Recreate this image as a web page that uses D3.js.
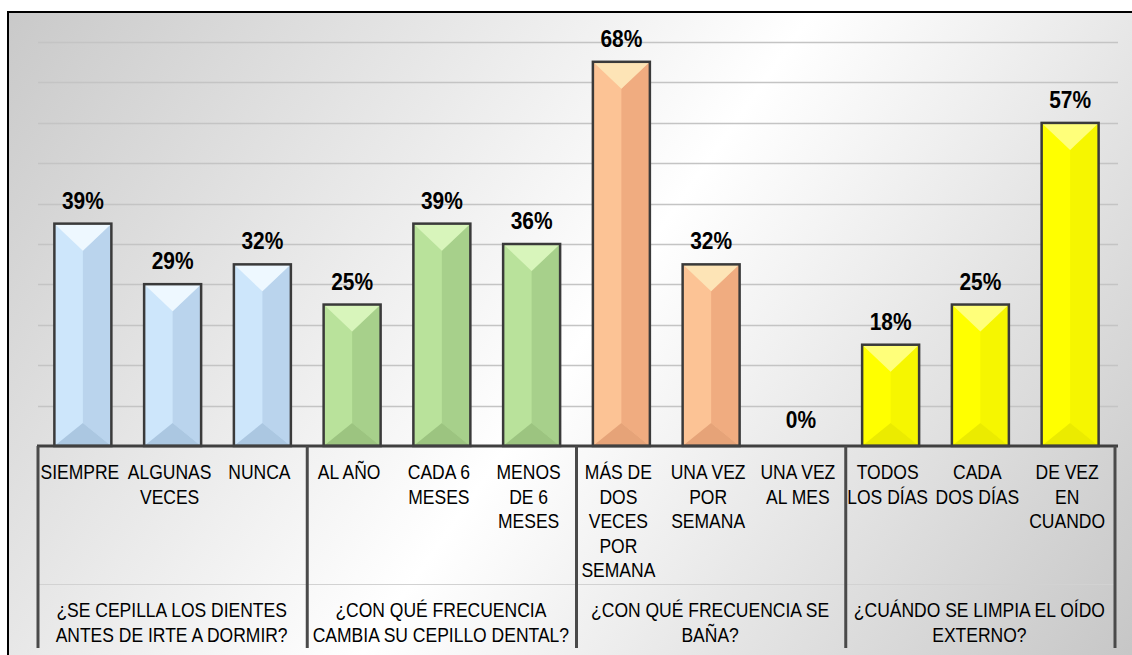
<!DOCTYPE html>
<html>
<head>
<meta charset="utf-8">
<script src="https://cdn.jsdelivr.net/npm/d3@7"></script>
<style>
  body { margin: 0; background: #fff; }
  svg { display: block; }
</style>
</head>
<body>
<div id="chart"></div>
<script>
// data
var groups = ["¿SE CEPILLA LOS DIENTES\nANTES DE IRTE A DORMIR?",
              "¿CON QUÉ FRECUENCIA\nCAMBIA SU CEPILLO DENTAL?",
              "¿CON QUÉ FRECUENCIA SE\nBAÑA?",
              "¿CUÁNDO SE LIMPIA EL OÍDO\nEXTERNO?"];
var categories = ["SIEMPRE", "ALGUNAS\nVECES", "NUNCA",
                  "AL AÑO", "CADA 6\nMESES", "MENOS\nDE 6\nMESES",
                  "MÁS DE\nDOS\nVECES\nPOR\nSEMANA", "UNA VEZ\nPOR\nSEMANA", "UNA VEZ\nAL MES",
                  "TODOS\nLOS DÍAS", "CADA\nDOS DÍAS", "DE VEZ\nEN\nCUANDO"];
var groupOf = [0,0,0, 1,1,1, 2,2,2, 3,3,3];
var values  = [0.393, 0.286, 0.321, 0.250, 0.393, 0.357, 0.679, 0.321, 0.000, 0.179, 0.250, 0.571];
var yMax = 0.714;

var width = 1132, height = 655;
var plot = {left: 38, right: 1115, top: 42, bottom: 446};

// bevel colours per group: top, left, right, bottom
var palette = [
    {top:"#eef8ff", left:"#cde6fb", right:"#bad4ed", bottom:"#abc7e1"},
    {top:"#d8f5bb", left:"#b9e29b", right:"#a7d08b", bottom:"#9cc480"},
    {top:"#fde4b6", left:"#fcc395", right:"#f0ac80", bottom:"#e6a378"},
    {top:"#ffff7a", left:"#ffff00", right:"#f6f600", bottom:"#ebeb00"}
];

var svg = d3.select("#chart").append("svg").attr("width", width).attr("height", height);

var defs = svg.append("defs");
var grad = defs.append("linearGradient").attr("id", "bg").attr("gradientUnits", "userSpaceOnUse")
    .attr("x1", 60).attr("y1", -64).attr("x2", 1140).attr("y2", 694);
grad.append("stop").attr("offset", "0").attr("stop-color", "#c9c9c9");
grad.append("stop").attr("offset", "0.5").attr("stop-color", "#ffffff");
grad.append("stop").attr("offset", "1").attr("stop-color", "#c4c4c4");

svg.append("rect").attr("x", 8).attr("y", 12).attr("width", 1140).attr("height", 660)
    .attr("fill", "url(#bg)").attr("stroke", "#000").attr("stroke-width", 2);

var x = d3.scaleBand().domain(d3.range(categories.length)).range([plot.left, plot.right])
    .paddingInner(0.365).paddingOuter(0.1825);
var y = d3.scaleLinear().domain([0, yMax]).range([plot.bottom, plot.top]);

// gridlines
var gridVals = d3.range(1, 11).map(function(i){ return yMax * i / 10; });
svg.append("g").selectAll("line").data(gridVals).enter().append("line")
    .attr("x1", plot.left).attr("x2", plot.right + 3)
    .attr("y1", function(d){ return Math.round(y(d)) + 0.5; })
    .attr("y2", function(d){ return Math.round(y(d)) + 0.5; })
    .attr("stroke", "#c4c4c4").attr("stroke-width", 1.5);

// condensed text helper
function addText(g, tx, ty, str, size, weight, sx) {
    g.append("g").attr("transform", "translate(" + tx + "," + ty + ") scale(" + sx + ",1)")
        .append("text").attr("text-anchor", "middle")
        .attr("font-family", "'Liberation Sans', Arial, sans-serif")
        .attr("font-size", size).attr("font-weight", weight).attr("fill", "#000")
        .text(str);
}

// bars
var bars = svg.append("g");
values.forEach(function(v, i) {
    if (v <= 0) return;
    var c = palette[groupOf[i]];
    var x0 = x(i), x1 = x(i) + x.bandwidth(), xc = (x0 + x1) / 2;
    var top = y(v), bot = y(0);
    var dt = Math.min(27, (bot - top) / 2);
    var db = Math.min(23, (bot - top) / 2);
    var g = bars.append("g");
    g.append("rect").attr("x", x0).attr("y", top).attr("width", x1 - x0).attr("height", bot - top).attr("fill", c.left);
    g.append("polygon").attr("points", [[xc, top + dt], [x1, top], [x1, bot], [xc, bot - db]].join(" ")).attr("fill", c.right);
    g.append("polygon").attr("points", [[x0, top], [x1, top], [xc, top + dt]].join(" ")).attr("fill", c.top);
    g.append("polygon").attr("points", [[x0, bot], [x1, bot], [xc, bot - db]].join(" ")).attr("fill", c.bottom);
    g.append("rect").attr("x", x0).attr("y", top).attr("width", x1 - x0).attr("height", bot - top)
        .attr("fill", "none").attr("stroke", "#3a3a3a").attr("stroke-width", 2.5);
});

// value labels
var fmt = d3.format(".0%");
var labels = svg.append("g");
values.forEach(function(v, i) {
    addText(labels, x(i) + x.bandwidth() / 2, y(v) - (v > 0 ? 15 : 18), fmt(v), 23, "bold", 0.91);
});

// axis area
svg.append("line").attr("x1", plot.left).attr("x2", plot.right)
    .attr("y1", 584.5).attr("y2", 584.5).attr("stroke", "#d2d2d2").attr("stroke-width", 1);

svg.append("line").attr("x1", plot.left - 1).attr("x2", plot.right + 3)
    .attr("y1", plot.bottom).attr("y2", plot.bottom).attr("stroke", "#404040").attr("stroke-width", 3);

var step = x.step();
var seps = d3.range(0, groups.length + 1).map(function(k){ return plot.left + k * 3 * step; });
svg.append("g").selectAll("line").data(seps).enter().append("line")
    .attr("x1", function(d){ return d; }).attr("x2", function(d){ return d; })
    .attr("y1", plot.bottom).attr("y2", 648)
    .attr("stroke", "#4a4a4a").attr("stroke-width", 3);

// category labels
var cat = svg.append("g");
categories.forEach(function(c, i) {
    c.split("\n").forEach(function(line, j) {
        addText(cat, x(i) + x.bandwidth() / 2 - 3, 479 + j * 24.5, line, 20, "normal", 0.875);
    });
});

// group labels
var grp = svg.append("g");
groups.forEach(function(gname, k) {
    gname.split("\n").forEach(function(line, j) {
        addText(grp, plot.left + (k * 3 + 1.5) * step - 1, 617 + j * 25, line, 20, "normal", 0.875);
    });
});
</script>
</body>
</html>
